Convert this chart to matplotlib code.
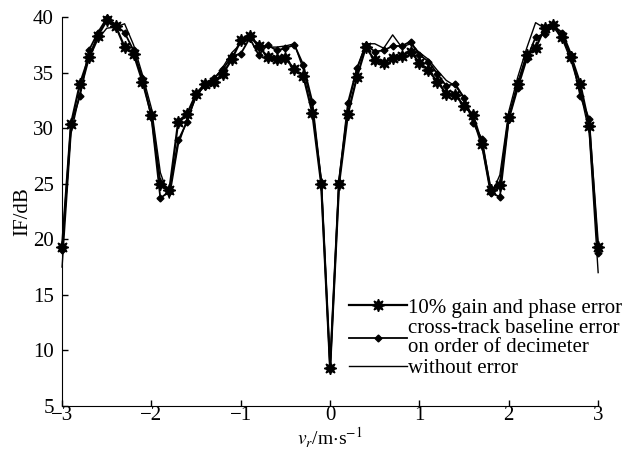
import numpy as np
import matplotlib
matplotlib.use('Agg')
import matplotlib.pyplot as plt

plt.rcParams['font.family'] = ['Liberation Serif', 'DejaVu Serif']
plt.rcParams['mathtext.fontset'] = 'stix'

# radial velocity grid (m/s)
v_r = np.linspace(-3, 3, 61)

# 10% gain and phase error
if_gain_phase = [
    19.3, 30.4, 34.0, 36.4, 38.3, 39.7, 39.2, 37.3, 36.7, 34.2,
    31.2, 25.0, 24.4, 30.6, 31.3, 33.1, 34.0, 34.2, 34.9, 36.2,
    37.9, 38.3, 37.4, 36.4, 36.2, 36.3, 35.3, 34.7, 31.4, 25.0,
    8.4,
    25.0, 31.3, 34.6, 37.3, 36.1, 35.9, 36.3, 36.5, 36.9, 35.9,
    35.2, 34.2, 33.1, 33.0, 32.0, 31.2, 28.6, 24.4, 24.9, 31.0,
    34.0, 36.6, 37.2, 39.0, 39.3, 38.2, 36.4, 34.0, 30.2, 19.3,
]

# cross-track baseline error on order of decimeter
if_baseline = [
    19.0, 30.3, 32.9, 37.0, 38.6, 39.9, 39.3, 38.6, 37.0, 34.5,
    31.0, 23.7, 24.3, 28.9, 30.6, 33.0, 33.8, 34.5, 35.3, 36.5,
    36.7, 38.1, 36.6, 37.5, 37.0, 37.2, 37.5, 35.7, 32.4, 25.2,
    8.4,
    25.2, 32.3, 35.4, 37.5, 36.9, 37.0, 37.4, 37.4, 37.8, 36.6,
    36.0, 34.9, 33.8, 34.0, 32.7, 30.5, 29.0, 24.2, 23.8, 30.8,
    33.6, 36.2, 38.2, 38.5, 39.2, 38.6, 36.6, 32.9, 30.8, 18.8,
]

# without error
if_no_error = [
    17.5, 29.5, 33.2, 36.2, 38.0, 39.0, 39.1, 39.4, 37.5, 34.8,
    31.8, 26.0, 23.7, 28.5, 30.8, 32.8, 34.0, 34.4, 35.5, 36.8,
    37.6, 38.2, 37.6, 37.3, 37.3, 37.4, 37.6, 35.3, 32.0, 25.5,
    8.3,
    25.5, 32.0, 35.3, 37.6, 37.6, 37.2, 38.4, 37.3, 37.6, 36.8,
    36.2, 35.2, 34.3, 33.8, 32.8, 30.8, 28.3, 23.9, 25.8, 31.5,
    34.6, 37.2, 39.5, 39.0, 39.1, 38.0, 36.0, 33.3, 29.6, 17.0,
]

fig = plt.figure(figsize=(6.27, 4.5), dpi=100)
ax = fig.add_axes([0.099, 0.098, 0.855, 0.864])

ax.plot(v_r, if_gain_phase, color='black', lw=1.6, marker=(8, 1, 0),
        ms=9, clip_on=False, label='10% gain and phase error')
ax.plot(v_r, if_baseline, color='black', lw=1.3, marker='D', ms=3.5,
        clip_on=False, label='cross-track baseline error\non order of decimeter')
ax.plot(v_r, if_no_error, color='black', lw=1.0, clip_on=False,
        label='without error')

ax.set_xlim(-3, 3)
ax.set_ylim(5, 40)
ax.set_xticks([-3, -2, -1, 0, 1, 2, 3])
ax.set_yticks([5, 10, 15, 20, 25, 30, 35, 40])
ax.spines['top'].set_visible(False)
ax.spines['right'].set_visible(False)
ax.tick_params(direction='in', length=4, labelsize=15, width=1)
ax.tick_params(axis='y', pad=6)
ax.tick_params(axis='x', pad=0)
ax.set_xlabel(r'$v_r$/m$\cdot$s$^{-1}$', fontsize=14)
ax.xaxis.set_label_coords(0.5, -0.05)
ax.set_ylabel('IF/dB', fontsize=15, labelpad=0)

leg = ax.legend(loc='lower right', frameon=False, fontsize=15,
                handlelength=2.8, handletextpad=0.05, labelspacing=0.08,
                borderaxespad=0.1, bbox_to_anchor=(1.065, 0.045))
for t in leg.get_texts():
    t.set_linespacing(0.95)

fig.savefig('out.png', dpi=100)
